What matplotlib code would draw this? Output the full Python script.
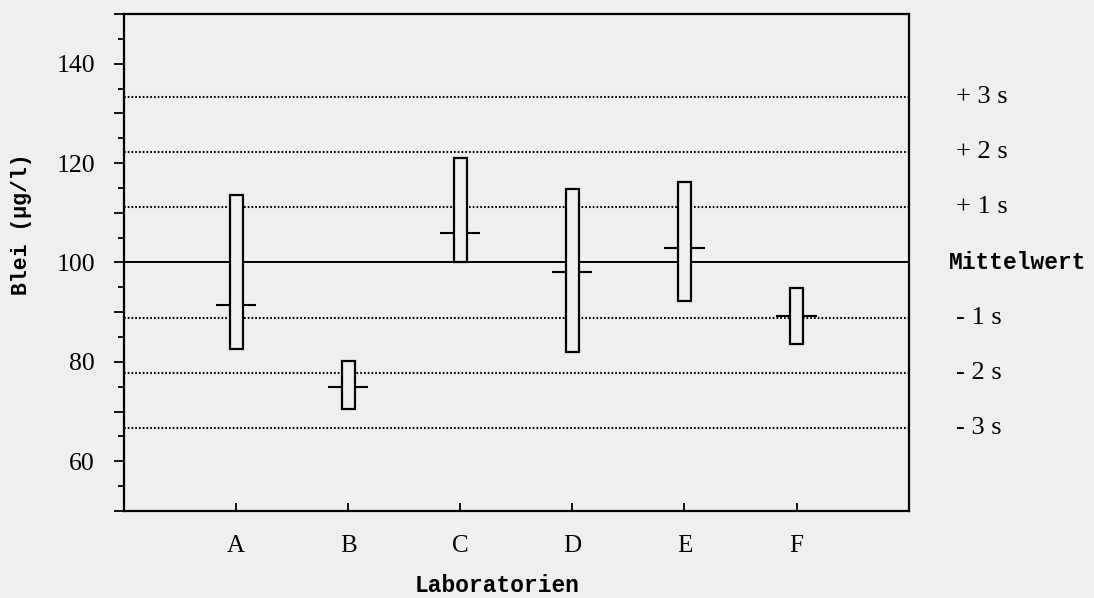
import matplotlib
matplotlib.use("Agg")
import matplotlib.pyplot as plt
import matplotlib.transforms as mtransforms
from matplotlib.patches import Rectangle
from matplotlib.ticker import MultipleLocator, FuncFormatter

# Ringversuch Blei: Spannweite (min/max) und Mittelwert je Labor
labs = ["A", "B", "C", "D", "E", "F"]
lab_max = [113.5, 80.1, 121.1, 114.7, 116.2, 94.8]
lab_min = [82.6, 70.6, 100.0, 81.9, 92.2, 83.7]
lab_mean = [91.5, 74.9, 105.9, 98.1, 103.0, 89.3]

# Gesamtmittelwert und Standardabweichung
mittelwert = 100.0
s = 11.1
s_levels = [3, 2, 1, -1, -2, -3]
s_labels = ["+ 3 s", "+ 2 s", "+ 1 s", "- 1 s", "- 2 s", "- 3 s"]

bg = "#efefef"
serif = "Liberation Serif"
mono = "Liberation Mono"

fig = plt.figure(figsize=(10.94, 5.98), dpi=100, facecolor=bg)
ax = fig.add_axes([0.1135, 0.1455, 0.7170, 0.8311])
ax.set_facecolor(bg)

ax.set_xlim(0, 7)
ax.set_ylim(50, 150)

# Mittelwert und s-Linien
ax.axhline(mittelwert, color="black", lw=1.4, zorder=1)
for k in s_levels:
    ax.axhline(mittelwert + k * s, color="black", lw=1.5,
               linestyle=(0, (0.8, 1.0)), zorder=1)

# Boxen mit Mittelwert-Strich
box_w = 0.115
mark_w = 0.34
for i, lab in enumerate(labs):
    x = i + 1
    ax.plot([x - mark_w / 2, x + mark_w / 2], [lab_mean[i], lab_mean[i]],
            color="black", lw=1.5, zorder=2)
    ax.add_patch(Rectangle((x - box_w / 2, lab_min[i]), box_w,
                           lab_max[i] - lab_min[i], facecolor=bg,
                           edgecolor="black", lw=1.6, zorder=3))

# Achsen
for sp in ax.spines.values():
    sp.set_linewidth(1.6)

ax.set_xticks(range(1, len(labs) + 1))
ax.set_xticklabels(labs, fontfamily=serif, fontsize=18)
ax.tick_params(axis="x", direction="in", length=6, width=1.3, pad=17)

ax.yaxis.set_major_locator(MultipleLocator(10))
ax.yaxis.set_minor_locator(MultipleLocator(5))
ax.yaxis.set_major_formatter(FuncFormatter(lambda v, p: "%d" % v if v % 20 == 0 else ""))
ax.tick_params(axis="y", which="major", direction="out", length=7, width=1.3, pad=14)
ax.tick_params(axis="y", which="minor", direction="out", length=4, width=1.3)
for t in ax.get_yticklabels():
    t.set_fontfamily(serif)
    t.set_fontsize(18.5)

# Beschriftung rechts
trans = mtransforms.blended_transform_factory(ax.transAxes, ax.transData)
for k, lbl in zip(s_levels, s_labels):
    ax.text(1.061, mittelwert + k * s, lbl, transform=trans, ha="left",
            va="center", fontfamily=serif, fontsize=19, clip_on=False)
ax.text(1.0515, mittelwert, "Mittelwert", transform=trans, ha="left",
        va="center", fontfamily=mono, fontsize=16.5, fontweight="bold",
        clip_on=False)

fig.text(22 / 1094, 1 - 224 / 598, "Blei (µg/l)", rotation=90,
         ha="center", va="center", fontfamily=mono, fontsize=15.5,
         fontweight="bold")
fig.text(497 / 1094, 1 - 586 / 598, "Laboratorien", ha="center",
         va="center", fontfamily=mono, fontsize=16.5, fontweight="bold")

fig.savefig("out.png", dpi=100, facecolor=bg)
